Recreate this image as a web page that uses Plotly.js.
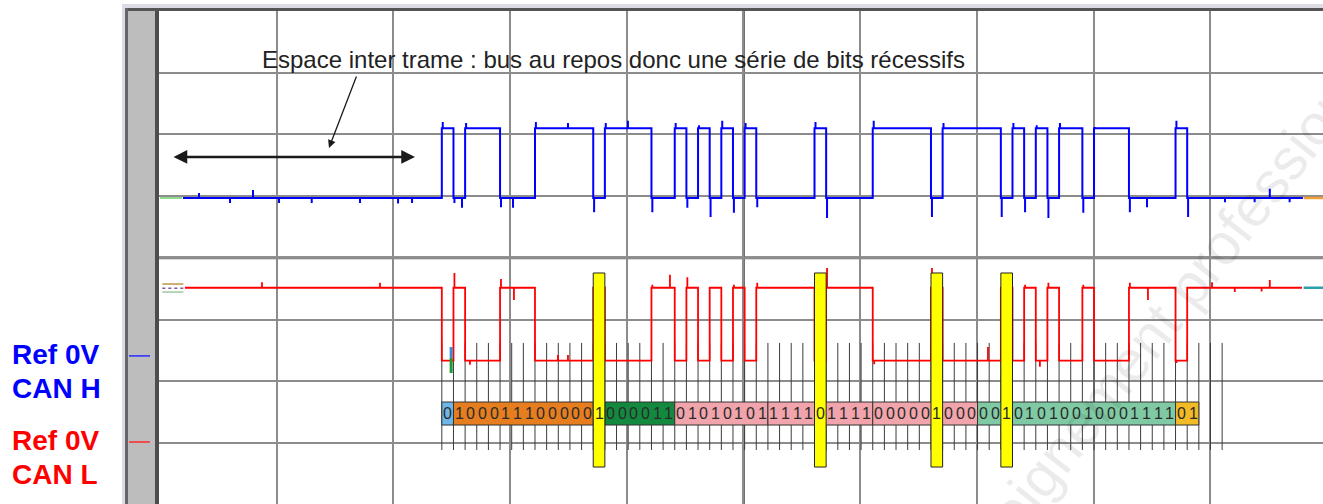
<!DOCTYPE html>
<html>
<head>
<meta charset="utf-8">
<script src="https://cdn.plot.ly/plotly-3.0.1.min.js"></script>
<style>
  html, body { margin: 0; padding: 0; background: #fff; }
  #chart { width: 1323px; height: 504px; }
</style>
</head>
<body>
<div id="chart"></div>
<script>
// CAN bus capture: CAN H (blue) and CAN L (red) on a scope screen, 100 us/div, 1 V/div

// frame bits, SOF first (0 = dominant)
const frameBits = [0, 1,0,0,0,1,1,1,0,0,0,0,0, 1, 0,0,0,0,1,1,
  0,1,0,1,0,1,0,1, 1,1,1,1,0,1,1,1,1, 0,0,0,0,0,1,0,0,0,
  0,0,1,0,1,0,1,0,0,1,0,0,0,1,1,1,1, 0,1];
const stuffBits = [13, 32, 42, 48];

// coloured fields under the trace (bit index start / end)
const fieldStart = [0, 1, 14, 20, 28, 37, 46, 63];
const fieldEnd   = [1, 13, 20, 28, 37, 46, 63, 65];
const fieldColor = ['#6fb6e6', '#e67d1e', '#13893f', '#f1a4ab', '#f1a4ab', '#f1a4ab', '#7fcaa4', '#f2ba24'];

// timing (us from left edge of screen)
const sofTime = 241.5;
const bitTime = 9.98;
const bitMarks = 68;

// levels in volts, refs in divisions from bottom
const refH = 2.41, recH = 2.56, domH = 3.69;
const refL = 1.015, recL = 2.50, domL = 1.32;

// spikes / noise seen on the traces [us, V]
const glitchH = [
  [33.4, 2.64], [60.0, 2.48], [79.7, 2.69], [102, 2.48], [130, 2.48], [171.4, 2.48], [204, 2.47], [216, 2.48],
  [242.3, 3.79], [252.3, 2.48], [258.8, 2.40], [262.3, 3.775], [292.2, 2.41], [302.5, 2.40], [322.1, 3.79],
  [349.6, 3.775], [372.0, 2.33], [382.0, 3.775], [401, 3.81], [421.9, 2.33], [441.9, 3.775], [451.9, 2.40],
  [461.9, 3.74], [471.8, 2.25], [481.8, 3.81], [491.8, 2.32], [501.8, 3.775], [511.8, 2.41], [561.7, 3.79],
  [571.6, 2.235], [611.6, 3.81], [661.5, 2.25], [671.4, 3.775], [721.3, 2.25], [731.3, 3.775], [741.3, 2.33],
  [751.3, 3.74], [761.3, 2.235], [771.2, 3.775], [791.2, 2.32], [801.2, 3.71], [831.1, 2.33], [845.8, 2.41],
  [871.0, 3.81], [881.0, 2.25], [912.6, 2.49], [938, 2.49], [951, 2.71], [968, 2.49]
];
const glitchL = [
  [87.4, 2.59], [188.5, 2.58], [252.3, 2.74], [265.6, 1.25], [292.2, 2.64], [303.3, 2.30], [341, 1.41],
  [349.6, 1.41], [421.9, 2.55], [437, 2.71], [451.9, 2.67], [491.8, 2.55], [511.8, 2.58], [571.6, 2.82],
  [612, 1.26], [661.5, 2.82], [709.5, 1.54], [741.3, 2.55], [754, 1.22], [761.3, 2.58], [791.2, 2.55],
  [831.1, 2.58], [846.6, 2.30], [871.0, 1.28], [901.5, 2.59], [921, 2.43], [944, 2.44], [951, 2.625]
];

const xRange = [-0.857, 996.6];
const yRange = [0.01, 8];

function levelOf(k, rec, dom) {
  return (k >= 0 && k < frameBits.length && frameBits[k] === 0) ? dom : rec;
}

function buildWave(ref, rec, dom, glitches, tStart, tEnd) {
  const groups = [];
  let prev = rec;
  for (let k = 0; k <= frameBits.length; k++) {
    const lvl = levelOf(k, rec, dom);
    if (lvl !== prev) {
      const t = sofTime + k * bitTime;
      groups.push({ t, pts: [[t, prev], [t, lvl]] });
      prev = lvl;
    }
  }
  glitches.forEach(([t, v]) => {
    const lvl = levelOf(Math.floor((t - sofTime) / bitTime), rec, dom);
    groups.push({ t, pts: [[t, lvl], [t, v], [t, lvl]] });
  });
  groups.sort((a, b) => a.t - b.t);
  const pts = [[tStart, rec]];
  groups.forEach(g => pts.push(...g.pts));
  pts.push([tEnd, rec]);
  return { x: pts.map(p => p[0]), y: pts.map(p => p[1] + ref) };
}

const waveH = buildWave(refH, recH, domH, glitchH, 19.7, 979.4);
const waveL = buildWave(refL, recL, domL, glitchL, 21.4, 978.6);

// thin bit marks
const markX = [], markY = [];
for (let k = 0; k < bitMarks; k++) {
  const t = sofTime + k * bitTime;
  markX.push(t, t, null);
  markY.push(2.62, 0.885, null);
}

const traces = [
  { x: markX, y: markY, mode: 'lines', line: { color: '#3c3c3c', width: 1 }, hoverinfo: 'skip' },
  // channel end stubs
  { x: [0, 19], y: [refH + recH, refH + recH], mode: 'lines', line: { color: '#8fd98f', width: 2 } },
  { x: [2, 20], y: [refL + 2.56, refL + 2.56], mode: 'lines', line: { color: '#c8b070', width: 2 } },
  { x: [2, 20], y: [refL + 2.49, refL + 2.49], mode: 'lines', line: { color: '#7a5a9a', width: 1.5, dash: 'dot' } },
  { x: [2, 20], y: [refL + 2.43, refL + 2.43], mode: 'lines', line: { color: '#9fc89f', width: 1.5 } },
  { x: [980, 997], y: [refH + recH, refH + recH], mode: 'lines', line: { color: '#f0a030', width: 2.5 } },
  { x: [980, 997], y: [refL + recL, refL + recL], mode: 'lines', line: { color: '#2aa0a8', width: 2.5 } },
  { x: waveH.x, y: waveH.y, mode: 'lines', line: { color: '#0000ff', width: 2 }, name: 'CAN H' },
  { x: waveL.x, y: waveL.y, mode: 'lines', line: { color: '#ff0000', width: 1.8 }, name: 'CAN L' }
];

// pixel helpers for the frame around the screen
const W = 1323, H = 504, L = 159, T = 11;
const pxX = v => (v - L) / (W - L);
const pxY = v => (H - v) / (H - T);
const yPaper = v => (v - yRange[0]) / (yRange[1] - yRange[0]);

const shapes = [
  { type: 'rect', xref: 'paper', yref: 'paper', x0: pxX(122), x1: 1, y0: pxY(8), y1: pxY(4), fillcolor: '#dcdce4', line: { width: 0 } },
  { type: 'rect', xref: 'paper', yref: 'paper', x0: pxX(122), x1: pxX(125), y0: 0, y1: pxY(4), fillcolor: '#dcdce4', line: { width: 0 } },
  { type: 'rect', xref: 'paper', yref: 'paper', x0: pxX(125), x1: 1, y0: 1, y1: pxY(8), fillcolor: '#555555', line: { width: 0 } },
  { type: 'rect', xref: 'paper', yref: 'paper', x0: pxX(125), x1: pxX(128), y0: 0, y1: pxY(8), fillcolor: '#666666', line: { width: 0 } },
  { type: 'rect', xref: 'paper', yref: 'paper', x0: pxX(128), x1: pxX(155), y0: 0, y1: 1, fillcolor: '#bdbdbd', line: { width: 0 } },
  { type: 'rect', xref: 'paper', yref: 'paper', x0: pxX(155), x1: 0, y0: 0, y1: 1, fillcolor: '#4d4d4d', line: { width: 0 } },
  // 0 V reference marks in the side strip
  { type: 'line', xref: 'paper', yref: 'paper', x0: pxX(129), x1: pxX(150), y0: yPaper(refH), y1: yPaper(refH), line: { color: '#2a2aff', width: 1.5 } },
  { type: 'line', xref: 'paper', yref: 'paper', x0: pxX(129), x1: pxX(150), y0: yPaper(refL), y1: yPaper(refL), line: { color: '#ff2a2a', width: 1.5 } },
  // centre graticule lines
  { type: 'line', xref: 'x', yref: 'paper', x0: 500, x1: 500, y0: 0, y1: 1, line: { color: '#6e6e6e', width: 3 }, layer: 'between' },
  { type: 'line', xref: 'paper', yref: 'y', x0: 0, x1: 1, y0: 4, y1: 4, line: { color: '#6e6e6e', width: 3 }, layer: 'between' },
  // cursor marker
  { type: 'rect', xref: 'x', yref: 'y', x0: 248.2, x1: 250.8, y0: 2.376, y1: 2.554, fillcolor: '#3a8ad8', line: { width: 0 } },
  { type: 'rect', xref: 'x', yref: 'y', x0: 248.2, x1: 250.8, y0: 2.133, y1: 2.376, fillcolor: '#1f9a3a', line: { width: 0 } }
];

fieldStart.forEach((s, i) => {
  shapes.push({
    type: 'rect', xref: 'x', yref: 'y', layer: 'above',
    x0: sofTime + s * bitTime, x1: sofTime + fieldEnd[i] * bitTime, y0: 1.29, y1: 1.663,
    fillcolor: fieldColor[i], line: { color: '#333333', width: 1 }
  });
});
stuffBits.forEach(k => {
  shapes.push({
    type: 'rect', xref: 'x', yref: 'y', layer: 'above',
    x0: sofTime + k * bitTime, x1: sofTime + (k + 1) * bitTime, y0: 0.609, y1: 3.754,
    fillcolor: '#ffff00', line: { color: '#222222', width: 1 }
  });
});

const font = 'Liberation Sans, Arial, sans-serif';
const sideLabel = (text, yPx, color) => ({
  x: pxX(10), y: pxY(yPx), xref: 'paper', yref: 'paper', xanchor: 'left', yanchor: 'middle',
  showarrow: false, text: '<b>' + text + '</b>', font: { family: font, size: 28, color: color }
});

const annotations = [
  {
    x: 389, y: 7.206, xref: 'x', yref: 'y', xanchor: 'center', yanchor: 'middle', showarrow: false,
    text: 'Espace inter trame : bus au repos donc une série de bits récessifs',
    font: { family: font, size: 24, color: '#222222' }
  },
  {
    x: 218.5, y: 5.634, ax: 10.3, ay: 5.634, xref: 'x', yref: 'y', axref: 'x', ayref: 'y',
    text: '', showarrow: true, arrowside: 'end+start', arrowhead: 2, arrowsize: 1.1, arrowwidth: 2.5,
    arrowcolor: '#1a1a1a', standoff: 0, startstandoff: 0
  },
  {
    x: 144.8, y: 5.78, ax: 168.8, ay: 6.963, xref: 'x', yref: 'y', axref: 'x', ayref: 'y',
    text: '', showarrow: true, arrowhead: 2, arrowsize: 1.2, arrowwidth: 1.3, arrowcolor: '#1a1a1a', standoff: 0
  },
  sideLabel('Ref 0V', 354, '#0000ff'),
  sideLabel('CAN H', 388, '#0000ff'),
  sideLabel('Ref 0V', 440, '#ff0000'),
  sideLabel('CAN L', 474, '#ff0000'),
  {
    x: 861, y: 3.07, xref: 'x', yref: 'y', showarrow: false, textangle: -52,
    text: 'Enseignement professionnel', font: { family: font, size: 58, color: 'rgba(0,0,0,0.08)' }
  }
];
frameBits.forEach((b, k) => {
  annotations.push({
    x: sofTime + (k + 0.5) * bitTime, y: 1.4765, xref: 'x', yref: 'y', showarrow: false,
    text: String(b), font: { family: font, size: 16, color: '#2a2a2a' }
  });
});

const layout = {
  width: W, height: H,
  margin: { l: L, r: 0, t: T, b: 0, pad: 0 },
  paper_bgcolor: '#ffffff',
  plot_bgcolor: '#ffffff',
  showlegend: false,
  xaxis: {
    range: xRange, tick0: 0, dtick: 100, showgrid: true, gridcolor: '#8c8c8c', gridwidth: 2,
    zeroline: false, showticklabels: false, ticks: '', showline: false
  },
  yaxis: {
    range: yRange, tick0: 0, dtick: 1, showgrid: true, gridcolor: '#8c8c8c', gridwidth: 2,
    zeroline: false, showticklabels: false, ticks: '', showline: false
  },
  shapes: shapes,
  annotations: annotations
};

Plotly.newPlot('chart', traces, layout, { staticPlot: true, displayModeBar: false });
</script>
</body>
</html>
